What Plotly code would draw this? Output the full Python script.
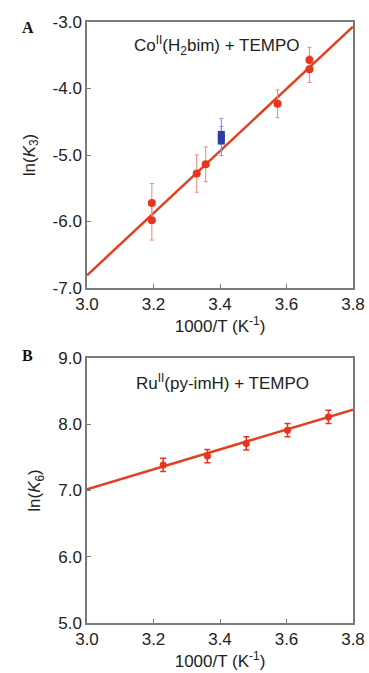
import plotly.graph_objects as go

# ---- data: panel A (Co(H2bim) + TEMPO) ----
a_x = [3.195, 3.195, 3.33, 3.357, 3.573, 3.669, 3.669]
a_y = [-5.72, -5.98, -5.28, -5.14, -4.23, -3.57, -3.71]
a_err = [0.29, 0.30, 0.28, 0.26, 0.21, 0.19, 0.20]
a_blue_x = [3.404, 3.404, 3.404]
a_blue_y = [-4.69, -4.74, -4.79]
a_blue_err = [0.24, 0.0, 0.22]
a_fit_x = [3.0, 3.8]
a_fit_y = [-6.81, -3.07]

# ---- data: panel B (Ru(py-imH) + TEMPO) ----
b_x = [3.229, 3.362, 3.479, 3.603, 3.726]
b_y = [7.385, 7.52, 7.71, 7.91, 8.11]
b_err = [0.10, 0.10, 0.10, 0.10, 0.10]
b_fit_x = [3.0, 3.8]
b_fit_y = [7.02, 8.22]

x_ticks = [3.0, 3.2, 3.4, 3.6, 3.8]
x_ticklabels = ["3.0", "3.2", "3.4", "3.6", "3.8"]
a_yticks = [-7.0, -6.0, -5.0, -4.0, -3.0]
a_yticklabels = ["-7.0", "-6.0", "-5.0", "-4.0", "-3.0"]
b_yticks = [5.0, 6.0, 7.0, 8.0, 9.0]
b_yticklabels = ["5.0", "6.0", "7.0", "8.0", "9.0"]

RED = "#e8341c"
LINE = "#e2401f"
ERR = "#ee8a70"
BLUE = "#2b3ea6"
FONT = "Liberation Sans, Arial, sans-serif"
FS = 17

fig = go.Figure()

# Panel A
fig.add_trace(go.Scatter(x=a_fit_x, y=a_fit_y, mode="lines",
                         line=dict(color=LINE, width=2.5), xaxis="x", yaxis="y",
                         showlegend=False, hoverinfo="skip"))
fig.add_trace(go.Scatter(x=a_blue_x, y=a_blue_y, mode="markers",
                         marker=dict(symbol="square", size=7, color=BLUE),
                         error_y=dict(type="data", array=a_blue_err, color="#7f8fd8",
                                      thickness=1, width=2),
                         xaxis="x", yaxis="y", showlegend=False))
fig.add_trace(go.Scatter(x=a_x, y=a_y, mode="markers",
                         marker=dict(symbol="circle", size=8, color=RED),
                         error_y=dict(type="data", array=a_err, color=ERR,
                                      thickness=1, width=2),
                         xaxis="x", yaxis="y", showlegend=False))

# Panel B
fig.add_trace(go.Scatter(x=b_fit_x, y=b_fit_y, mode="lines",
                         line=dict(color=LINE, width=2.5), xaxis="x2", yaxis="y2",
                         showlegend=False, hoverinfo="skip"))
fig.add_trace(go.Scatter(x=b_x, y=b_y, mode="markers",
                         marker=dict(symbol="circle", size=7, color=RED),
                         error_y=dict(type="data", array=b_err, color=RED,
                                      thickness=1.5, width=3),
                         xaxis="x2", yaxis="y2", showlegend=False))

axis_common = dict(
    showgrid=False, zeroline=False, showline=True, linecolor="#7a7a7a",
    linewidth=1.5, mirror=True, ticks="inside", ticklen=4, tickcolor="#7a7a7a",
    tickfont=dict(family=FONT, size=FS, color="#222"), automargin=False,
)
title_font = dict(family=FONT, size=FS, color="#222")

x_dom = [87 / 369, 353 / 369]
fig.update_layout(
    width=369, height=673,
    margin=dict(l=0, r=0, t=0, b=0),
    paper_bgcolor="white", plot_bgcolor="white",
    font=dict(family=FONT, color="#222"),
    xaxis=dict(axis_common, domain=x_dom, range=[3.0, 3.8], anchor="y",
               tickvals=x_ticks, ticktext=x_ticklabels,
               title=dict(text="1000/T (K<sup>-1</sup>)", font=title_font, standoff=6)),
    yaxis=dict(axis_common, domain=[1 - 288 / 673, 1 - 22 / 673], range=[-7.0, -3.0], anchor="x",
               tickvals=a_yticks, ticktext=a_yticklabels,
               title=dict(text="ln(<i>K</i><sub>3</sub>)", font=title_font, standoff=13)),
    xaxis2=dict(axis_common, domain=x_dom, range=[3.0, 3.8], anchor="y2",
                tickvals=x_ticks, ticktext=x_ticklabels,
                title=dict(text="1000/T (K<sup>-1</sup>)", font=title_font, standoff=6)),
    yaxis2=dict(axis_common, domain=[1 - 623 / 673, 1 - 358 / 673], range=[5.0, 9.0], anchor="x2",
                tickvals=b_yticks, ticktext=b_yticklabels,
                title=dict(text="ln(<i>K</i><sub>6</sub>)", font=title_font, standoff=13)),
    annotations=[
        dict(text="Co<sup>II</sup>(H<sub>2</sub>bim) + TEMPO", x=3.39, y=-3.36, xref="x", yref="y",
             showarrow=False, font=title_font),
        dict(text="Ru<sup>II</sup>(py-imH) + TEMPO", x=3.408, y=8.64, xref="x2", yref="y2",
             showarrow=False, font=title_font),
        dict(text="<b>A</b>", x=20 / 369, y=1 - 17 / 673, xref="paper", yref="paper",
             showarrow=False, font=dict(family="Liberation Serif, Times New Roman, serif", size=16, color="#111")),
        dict(text="<b>B</b>", x=20 / 369, y=1 - 355 / 673, xref="paper", yref="paper",
             showarrow=False, font=dict(family="Liberation Serif, Times New Roman, serif", size=16, color="#111")),
    ],
)

fig.write_html("out.html", config={"displayModeBar": False},
               post_script="document.body.style.margin='0';document.body.style.overflow='hidden';")
